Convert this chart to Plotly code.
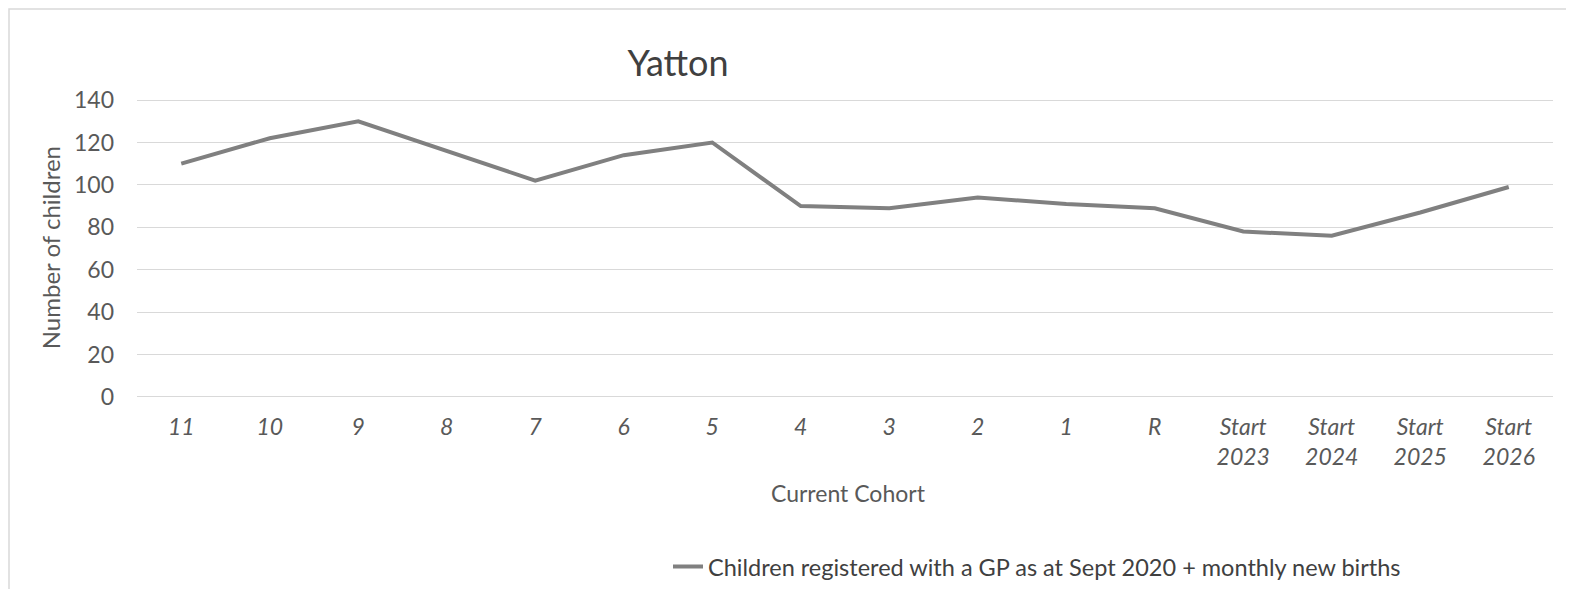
import plotly.graph_objects as go

categories = ["11", "10", "9", "8", "7", "6", "5", "4", "3", "2", "1", "R",
              "Start<br>2023", "Start<br>2024", "Start<br>2025", "Start<br>2026"]
children = [110, 122, 130, 116, 102, 114, 120, 90, 89, 94, 91, 89, 78, 76, 87, 99]
y_ticks = [0, 20, 40, 60, 80, 100, 120, 140]

W, H = 1574, 589
OX, OY = 8, 8  # page body margin
# page-pixel positions measured from the reference
Y0_PX, Y140_PX = 396.5, 100.0
X_LEFT_PX, X_RIGHT_PX = 137, 1553
unit = (Y0_PX - Y140_PX) / 140.0
ylo, yhi = -0.5, 140.5
L = X_LEFT_PX - OX
R = W - (X_RIGHT_PX - OX)
T = (Y140_PX - OY) - (yhi - 140) * unit
B = H - ((Y0_PX - OY) + (0 - ylo) * unit)
pw, ph = W - L - R, H - T - B

def px_x(x):
    return (x - OX - L) / pw

def px_y(y):
    return (H - B - (y - OY)) / ph

FONT = "Lato, 'Open Sans', sans-serif"
TXT = "#595959"

fig = go.Figure()
fig.add_trace(go.Scatter(
    x=list(range(len(categories))), y=children, mode="lines",
    name="Children registered with a GP as at Sept 2020 + monthly new births",
    line=dict(color="#808080", width=4),
))

fig.update_layout(
    width=W, height=H,
    margin=dict(l=L, r=R, t=T, b=B, autoexpand=False),
    paper_bgcolor="white", plot_bgcolor="white",
    font=dict(family=FONT, color=TXT),
    title=dict(text="Yatton", x=(678 - OX) / W, xanchor="center", xref="container",
               y=1 - (63 - OY) / H, yanchor="middle", yref="container",
               font=dict(size=36, color="#404040", family=FONT)),
    xaxis=dict(
        tickmode="array", tickvals=list(range(len(categories))), ticktext=categories,
        range=[-0.5, len(categories) - 0.5], showgrid=False, zeroline=False,
        showline=False, ticks="", automargin=False,
        tickfont=dict(size=23, color=TXT, family=FONT, style="italic"),
        ticklabelstandoff=13,
    ),
    yaxis=dict(
        range=[ylo, yhi], tickvals=y_ticks, showgrid=True, gridcolor="#d9d9d9",
        gridwidth=1.3, zeroline=False, showline=False, ticks="", automargin=False,
        tickfont=dict(size=23, color=TXT, family=FONT), ticklabelstandoff=22,
    ),
    showlegend=True,
    legend=dict(orientation="h", x=px_x(668), xanchor="left", y=px_y(566), yanchor="middle",
                font=dict(size=23.5, color="#404040", family=FONT), bgcolor="rgba(0,0,0,0)"),
)

fig.add_annotation(text="Number of children", textangle=-90, xref="paper", yref="paper",
                   x=px_x(50), y=px_y(248), xanchor="center", yanchor="middle",
                   showarrow=False, font=dict(size=24, color=TXT, family=FONT))
fig.add_annotation(text="Current Cohort", xref="paper", yref="paper",
                   x=px_x(848), y=px_y(492), xanchor="center", yanchor="middle",
                   showarrow=False, font=dict(size=23, color=TXT, family=FONT))

fig.add_shape(type="rect", xref="paper", yref="paper",
              x0=px_x(9), x1=px_x(1600), y0=px_y(620), y1=px_y(9),
              line=dict(color="#d9d9d9", width=1.5), fillcolor="rgba(0,0,0,0)", layer="below")

fig.write_html("out.html")
